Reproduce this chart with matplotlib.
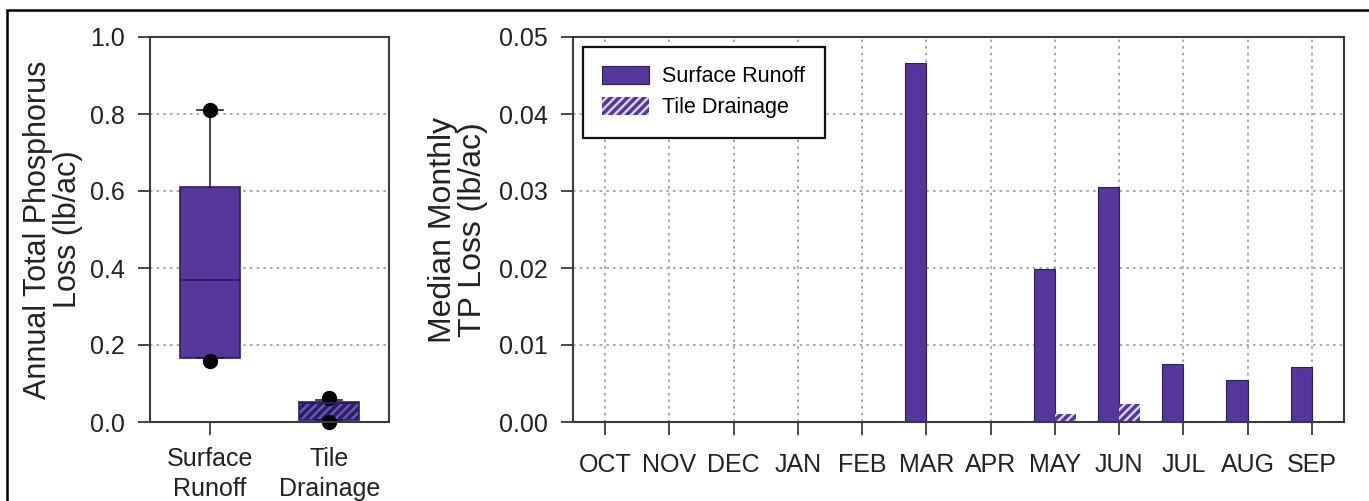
import matplotlib
matplotlib.use("Agg")
import matplotlib.pyplot as plt
from matplotlib.patches import Rectangle, Patch
from matplotlib.ticker import FormatStrFormatter

plt.rcParams['font.family'] = ['Liberation Sans', 'DejaVu Sans']
plt.rcParams['hatch.linewidth'] = 2.5

# annual TP loss box plot (lb/ac)
box_labels = ['Surface\nRunoff', 'Tile\nDrainage']
box_q1 = [0.165, 0.004]
box_med = [0.37, 0.049]
box_q3 = [0.61, 0.053]
box_whislo = [0.165, 0.004]
box_whishi = [0.81, 0.058]
box_fliers = [[0.81, 0.158], [0.063, 0.0]]

# median monthly TP loss (lb/ac)
months = ['OCT', 'NOV', 'DEC', 'JAN', 'FEB', 'MAR', 'APR', 'MAY', 'JUN', 'JUL', 'AUG', 'SEP']
surface = [0, 0, 0, 0, 0, 0.0466, 0, 0.0199, 0.0305, 0.0075, 0.0054, 0.0071]
tile = [0, 0, 0, 0, 0, 0, 0, 0.0010, 0.0024, 0, 0, 0]

purple = '#55369a'
dark = '#2b1d66'
spine_col = '#3a3a3a'
grid_kw = dict(color='#9a9a9a', linestyle=(0, (1.5, 2.5)), linewidth=1.2)

fig = plt.figure(figsize=(13.69, 5.01), dpi=100)
ax1 = fig.add_axes([150 / 1369, 79 / 501, 239 / 1369, 385 / 501])
ax2 = fig.add_axes([573 / 1369, 79 / 501, 771 / 1369, 385 / 501])

# frame round the whole figure
fig.patches.append(Rectangle((7 / 1369, -0.2), 1.2, 1.2 - 10 / 501,
                             transform=fig.transFigure, fill=False,
                             edgecolor='black', linewidth=1.8))


def style_axes(ax):
    for s in ax.spines.values():
        s.set_color(spine_col)
        s.set_linewidth(1.5)
    ax.tick_params(direction='out', length=9, width=1.3, color=spine_col,
                   labelsize=18, labelcolor='#222222')
    ax.tick_params(axis='x', pad=13)
    ax.tick_params(axis='y', pad=9)
    ax.set_axisbelow(True)


# --- box plot
stats = []
for i in range(len(box_labels)):
    stats.append(dict(label=box_labels[i], q1=box_q1[i], med=box_med[i], q3=box_q3[i],
                      whislo=box_whislo[i], whishi=box_whishi[i], fliers=box_fliers[i]))
bp = ax1.bxp(stats, positions=[1, 2], widths=0.5, patch_artist=True, capwidths=0.22,
             boxprops=dict(linewidth=1.2, edgecolor=dark),
             medianprops=dict(color=dark, linewidth=1.5),
             whiskerprops=dict(color='#222222', linewidth=1.2),
             capprops=dict(color='#222222', linewidth=1.2),
             flierprops=dict(marker='o', markerfacecolor='black', markeredgecolor='black',
                             markersize=10))
bp['boxes'][0].set_facecolor(purple)
bp['boxes'][1].set_facecolor('#6c58b0')
bp['boxes'][1].set_edgecolor(dark)
bp['boxes'][1].set_hatch('////')
for f in bp['fliers']:
    f.set_clip_on(False)

ax1.set_xlim(0.5, 2.5)
ax1.set_ylim(0, 1.0)
ax1.set_yticks([0, 0.2, 0.4, 0.6, 0.8, 1.0])
ax1.yaxis.set_major_formatter(FormatStrFormatter('%.1f'))
ax1.yaxis.grid(True, **grid_kw)
style_axes(ax1)
ax1.tick_params(axis='x', pad=9)
for lbl in ax1.get_xticklabels():
    lbl.set_linespacing(1.3)
ax1.xaxis.get_major_ticks()[1].tick1line.set_visible(False)
ax1.set_ylabel('Annual Total Phosphorus\nLoss (lb/ac)', fontsize=22, linespacing=1.0,
               color='#222222', labelpad=5)

# --- monthly bars
x = range(len(months))
w = 0.33
ax2.bar([i - w / 2 for i in x], surface, width=w, color=purple, edgecolor=dark,
        linewidth=0.8, label='Surface Runoff')
ax2.bar([i + w / 2 for i in x], tile, width=w, color='#d9d2f0', edgecolor=purple,
        linewidth=0, hatch='////', label='Tile Drainage')
ax2.set_xlim(-0.5, 11.5)
ax2.set_ylim(0, 0.05)
ax2.set_xticks(list(x))
ax2.set_xticklabels(months)
ax2.set_yticks([0, 0.01, 0.02, 0.03, 0.04, 0.05])
ax2.yaxis.set_major_formatter(FormatStrFormatter('%.2f'))
ax2.grid(True, **grid_kw)
style_axes(ax2)
ax2.set_ylabel('Median Monthly\nTP Loss (lb/ac)', fontsize=23, linespacing=1.0,
               color='#222222', labelpad=8)

handles = [Patch(facecolor=purple, edgecolor=dark, linewidth=0.8),
           Patch(facecolor='#d9d2f0', edgecolor=purple, linewidth=0, hatch='////')]
leg = ax2.legend(handles, ['Surface Runoff', 'Tile Drainage'], loc='upper left',
                 fontsize=15.5, fancybox=False, framealpha=1, edgecolor='#111111',
                 handlelength=2.2, handleheight=0.9, handletextpad=0.6,
                 borderpad=0.9, labelspacing=0.45, borderaxespad=0.45)
leg.get_frame().set_linewidth(1.6)

fig.savefig('out.png', dpi=100)
